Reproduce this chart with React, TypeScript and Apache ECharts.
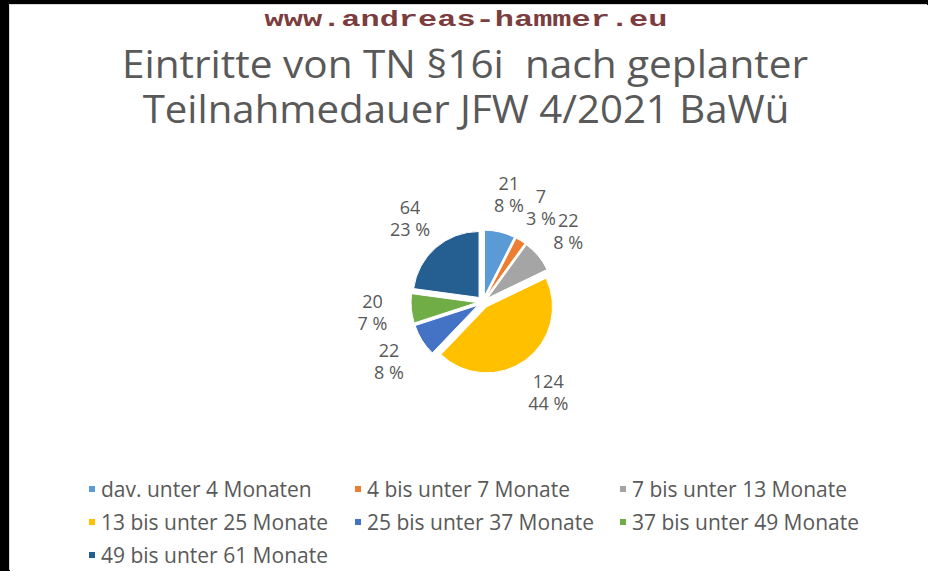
import React, { useEffect, useRef } from 'react';
import * as echarts from 'echarts';

const siteText = 'www.andreas-hammer.eu';
const titleLines = ['Eintritte von TN §16i  nach geplanter', 'Teilnahmedauer JFW 4/2021 BaWü'];
const categories = [
  'dav. unter 4 Monaten',
  '4 bis unter 7 Monate',
  '7 bis unter 13 Monate',
  '13 bis unter 25 Monate',
  '25 bis unter 37 Monate',
  '37 bis unter 49 Monate',
  '49 bis unter 61 Monate',
];
const values = [21, 7, 22, 124, 22, 20, 64];
const colors = ['#5B9BD5', '#ED7D31', '#A5A5A5', '#FFC000', '#4472C4', '#70AD47', '#255E91'];
const legendColumns = [[0, 3, 6], [1, 4], [2, 5]];
const legendLefts = [87, 353, 618];

const SANS = '"Open Sans", "Noto Sans", sans-serif';
const MONO = '"Liberation Mono", "DejaVu Sans Mono", monospace';

// the white sheet starts at (OX, OY) inside the black frame
const OX = 10;
const OY = 5;

function measure(text: string, font: string): number {
  const c = document.createElement('canvas').getContext('2d');
  if (!c) return 1;
  c.font = font;
  return c.measureText(text).width || 1;
}

export default function App() {
  const ref = useRef<HTMLDivElement>(null);
  useEffect(() => {
    if (!ref.current) return;
    document.documentElement.style.overflow = 'hidden';
    document.body.style.margin = '0';
    document.body.style.background = '#fff';
    const chart = echarts.init(ref.current, null, { renderer: 'svg' });
    const sWww = 403 / measure(siteText, `bold 22px ${MONO}`);
    const s1 = 686 / measure(titleLines[0], `38px ${SANS}`);
    const s2 = 647 / measure(titleLines[1], `38px ${SANS}`);
    const pieData = categories.map((name, i) => ({
      name,
      value: values[i],
      selected: true,
      itemStyle: { color: colors[i] },
    }));
    const fmt = (p: any) => `${p.value}\n${Math.round(p.percent)} %`;
    const cx = 483 - OX;
    const cy = 302 - OY;
    chart.setOption({
      animation: false,
      backgroundColor: '#fff',
      graphic: [
        {
          type: 'text',
          x: 466 - OX,
          y: 20 - OY,
          scaleX: sWww,
          style: {
            text: siteText,
            fontSize: 22,
            fontWeight: 'bold',
            fontFamily: MONO,
            fill: '#7b3d3d',
            align: 'center',
            verticalAlign: 'middle',
          },
        },
        {
          type: 'text',
          x: 465 - OX,
          y: 63 - OY,
          scaleX: s1,
          style: {
            text: titleLines[0],
            fontSize: 38,
            fontFamily: SANS,
            fill: '#595959',
            align: 'center',
            verticalAlign: 'middle',
          },
        },
        {
          type: 'text',
          x: 466 - OX,
          y: 108 - OY,
          scaleX: s2,
          style: {
            text: titleLines[1],
            fontSize: 38,
            fontFamily: SANS,
            fill: '#595959',
            align: 'center',
            verticalAlign: 'middle',
          },
        },
      ],
      legend: legendColumns.map((col, k) => ({
        orient: 'vertical',
        left: legendLefts[k] - OX,
        top: 478 - OY,
        padding: 0,
        itemWidth: 8,
        itemHeight: 8,
        itemGap: 11,
        icon: 'rect',
        selectedMode: false,
        data: col.map((i) => ({ name: categories[i], itemStyle: { color: colors[i] } })),
        textStyle: { fontSize: 21, lineHeight: 22, color: '#595959', fontFamily: SANS },
      })),
      series: [
        {
          type: 'pie',
          center: [cx, cy],
          radius: 66,
          startAngle: 90,
          clockwise: true,
          selectedMode: 'multiple',
          selectedOffset: 6,
          data: pieData,
          itemStyle: { borderColor: '#fff', borderWidth: 1 },
          select: { itemStyle: { borderColor: '#fff', borderWidth: 1 } },
          emphasis: { disabled: true },
          label: { show: false },
          labelLine: { show: false },
        },
        {
          type: 'pie',
          center: [cx, cy],
          radius: [88, 128],
          startAngle: 90,
          clockwise: true,
          silent: true,
          legendHoverLink: false,
          avoidLabelOverlap: false,
          labelLayout: { hideOverlap: false },
          data: categories.map((name, i) => ({ name, value: values[i] })),
          itemStyle: { color: 'rgba(0,0,0,0)', borderWidth: 0 },
          emphasis: { disabled: true },
          label: {
            show: true,
            position: 'inside',
            formatter: fmt,
            color: '#595959',
            fontSize: 18,
            lineHeight: 22,
            fontFamily: SANS,
            textBorderWidth: 0,
          },
          labelLine: { show: false },
        },
      ],
    });
    return () => chart.dispose();
  }, []);
  return (
    <div style={{ position: 'fixed', left: 0, top: 0, width: 928, height: 571, background: '#000', overflow: 'hidden' }}>
      <div
        ref={ref}
        style={{
          position: 'absolute',
          left: OX,
          top: OY,
          width: 928 - OX,
          height: 571 - OY,
          background: '#fff',
          boxShadow: '-1px -1px 0 #d9d9d9',
        }}
      />
    </div>
  );
}
